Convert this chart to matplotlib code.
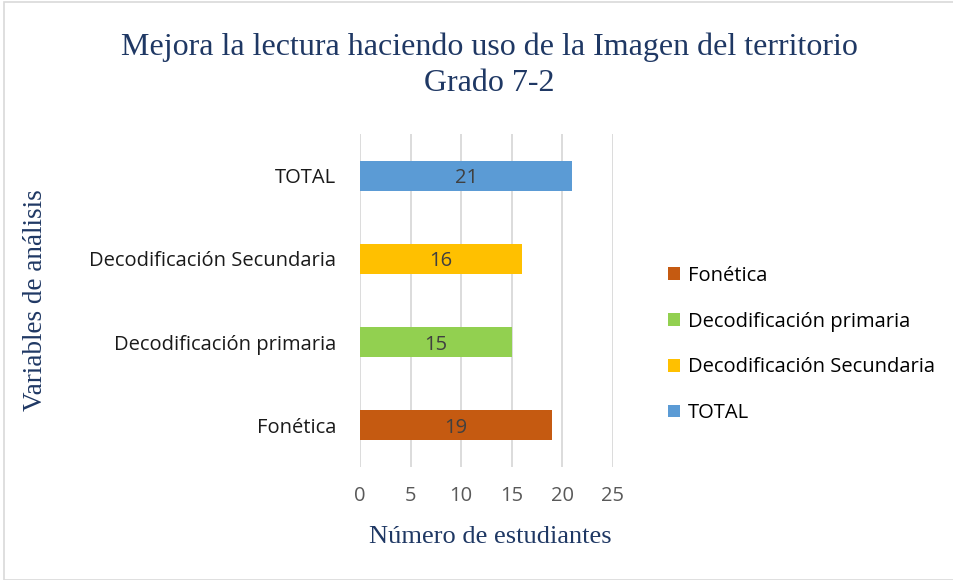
import matplotlib.pyplot as plt
from matplotlib.patches import Rectangle, Patch

categorias = ["Fonética", "Decodificación primaria", "Decodificación Secundaria", "TOTAL"]
valores = [19, 15, 16, 21]
colores = ["#C55A11", "#92D050", "#FFC000", "#5B9BD5"]
xticks = [0, 5, 10, 15, 20, 25]

azul = "#1F3864"
serif = "Liberation Serif"
sans = "Open Sans"

fig = plt.figure(figsize=(9.54, 5.8), dpi=100)
ax = fig.add_axes([0.3774, 0.195, 0.265, 0.574])

ypos = range(len(categorias))
ax.barh(ypos, valores, height=0.36, color=colores, zorder=3)
for y, v in zip(ypos, valores):
    ax.text(v / 2, y, str(v), ha="center", va="center_baseline", fontsize=14.5,
            color="#404040", family=sans, zorder=4)

ax.set_xlim(0, 25)
ax.set_ylim(-0.5, 3.5)
ax.set_xticks(xticks)
ax.set_xticklabels([str(t) for t in xticks], family=sans, fontsize=14.5, color="#595959")
ax.set_yticks(list(ypos))
ax.set_yticklabels(categorias, family=sans, fontsize=14.5, color="#1a1a1a")
ax.tick_params(axis="x", length=0, pad=14)
ax.tick_params(axis="y", length=0, pad=17)
ax.grid(axis="x", color="#d9d9d9", linewidth=1.3, zorder=0)
for s in ax.spines.values():
    s.set_visible(False)

fig.text(0.5126, 0.887, "Mejora la lectura haciendo uso de la Imagen del territorio\nGrado 7-2",
         ha="center", va="center", fontsize=23, family=serif, color=azul, linespacing=1.3)
fig.text(0.5136, 0.074, "Número de estudiantes", ha="center", va="center",
         fontsize=19, family=serif, color=azul)
fig.text(0.037, 0.482, "Variables de análisis", ha="center", va="center", rotation=90,
         fontsize=19.5, family=serif, color=azul)

handles = [Patch(facecolor=c, label=l) for c, l in zip(colores, categorias)]
fig.legend(handles=handles, loc="center left", bbox_to_anchor=(0.681, 0.406),
           frameon=False, prop={"family": sans, "size": 14.5}, handlelength=0.6,
           handleheight=0.6, handletextpad=0.4, labelspacing=1.28)

fig.patches.append(Rectangle((0.004, 0.0), 0.996, 0.996, transform=fig.transFigure,
                             fill=False, edgecolor="#d9d9d9", linewidth=1.2))

fig.savefig("out.png", dpi=100)
